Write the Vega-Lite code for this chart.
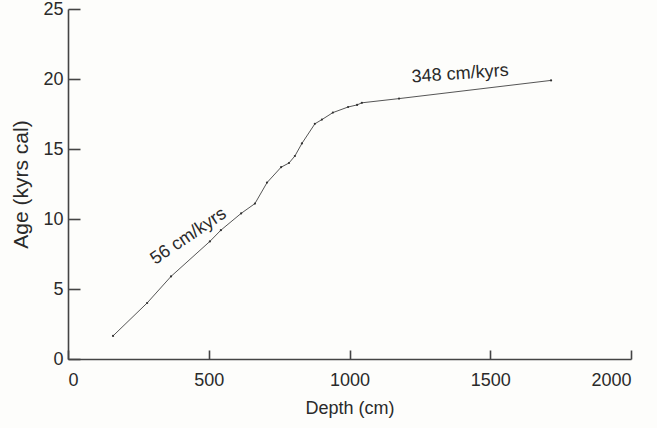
{
  "$schema": "https://vega.github.io/schema/vega-lite/v6.json",
  "width": 563,
  "height": 350,
  "autosize": "none",
  "padding": {"left": 68, "top": 9, "right": 26, "bottom": 69},
  "background": "#fdfdfb",
  "config": {
    "view": {"stroke": null},
    "font": "Liberation Sans",
    "axis": {
      "grid": false,
      "domainColor": "#444",
      "domainWidth": 1.6,
      "tickColor": "#444",
      "tickWidth": 1.6,
      "labelColor": "#2a2a2a",
      "titleColor": "#2a2a2a",
      "labelFontSize": 18,
      "titleFontSize": 18,
      "titleFontWeight": "normal",
      "labelFont": "Liberation Sans",
      "titleFont": "Liberation Sans",
      "format": "d"
    }
  },
  "datasets": {
    "core": [
      {"depth": 160, "age": 1.65},
      {"depth": 281, "age": 4.0},
      {"depth": 366, "age": 5.9},
      {"depth": 504, "age": 8.4},
      {"depth": 543, "age": 9.2},
      {"depth": 615, "age": 10.4},
      {"depth": 664, "age": 11.1},
      {"depth": 707, "age": 12.6},
      {"depth": 757, "age": 13.7},
      {"depth": 785, "age": 14.0},
      {"depth": 806, "age": 14.5},
      {"depth": 831, "age": 15.4},
      {"depth": 877, "age": 16.8},
      {"depth": 902, "age": 17.1},
      {"depth": 941, "age": 17.6},
      {"depth": 995, "age": 18.0},
      {"depth": 1027, "age": 18.15},
      {"depth": 1044, "age": 18.3},
      {"depth": 1176, "age": 18.6},
      {"depth": 1716, "age": 19.9}
    ],
    "labels": [
      {"depth": 428, "age": 8.75, "text": "56 cm/kyrs", "angle": 326},
      {"depth": 1393, "age": 20.35, "text": "348 cm/kyrs", "angle": 356}
    ]
  },
  "layer": [
    {
      "data": {"name": "core"},
      "mark": {"type": "line", "color": "#555", "strokeWidth": 1, "point": {"filled": true, "size": 5, "color": "#333"}},
      "encoding": {
        "x": {"field": "depth", "type": "quantitative", "scale": {"domain": [0, 2000], "nice": false},
              "axis": {"title": "Depth (cm)", "values": [0, 500, 1000, 1500, 2000], "tickSize": -9, "labelPadding": 21, "titlePadding": 10}},
        "y": {"field": "age", "type": "quantitative", "scale": {"domain": [0, 25], "nice": false},
              "axis": {"title": "Age (kyrs cal)", "titleFontSize": 21, "values": [0, 5, 10, 15, 20, 25], "tickSize": -12, "labelPadding": 17, "titlePadding": 11}}
      }
    },
    {
      "data": {"name": "labels"},
      "mark": {"type": "text", "fontSize": 18, "color": "#2a2a2a", "font": "Liberation Sans"},
      "encoding": {
        "x": {"field": "depth", "type": "quantitative"},
        "y": {"field": "age", "type": "quantitative"},
        "text": {"field": "text"},
        "angle": {"field": "angle", "type": "quantitative", "scale": null}
      }
    }
  ]
}
